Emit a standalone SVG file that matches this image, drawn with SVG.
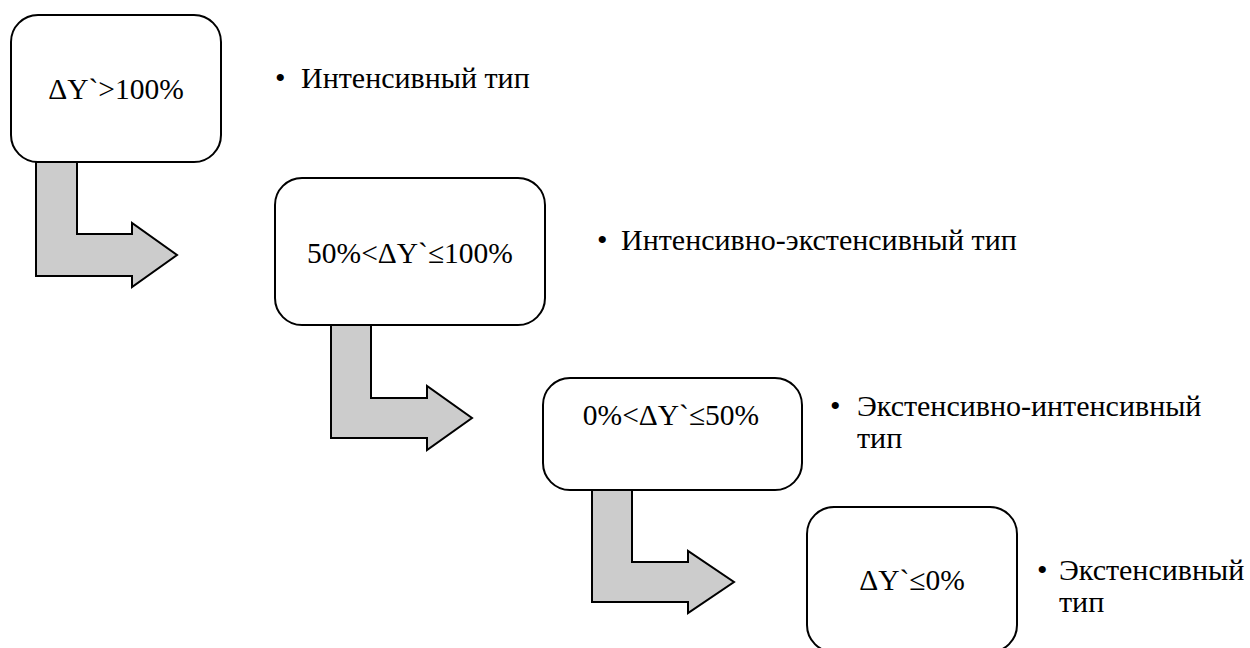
<svg xmlns="http://www.w3.org/2000/svg" width="1250" height="648" viewBox="0 0 1250 648">
  <style>
    .box { fill: #ffffff; stroke: #000000; stroke-width: 2; }
    .arrow { fill: #cccccc; stroke: #000000; stroke-width: 2; stroke-linejoin: miter; }
    .cond { font-family: "Liberation Serif", "Times New Roman", serif; font-size: 29.5px; fill: #000000; text-anchor: middle; }
    .label { font-family: "Liberation Serif", "Times New Roman", serif; font-size: 30px; fill: #000000; }
  </style>
  <rect width="1250" height="648" fill="#ffffff"/>

  <!-- bent block arrows linking the stages -->
  <g id="connectors">
    <path class="arrow" d="M36,162 L77,162 L77,234 L132,234 L132,223 L177,255 L132,287 L132,276 L36,276 Z"/>
    <path class="arrow" d="M331,325 L371,325 L371,398 L427,398 L427,386 L472,418 L427,450 L427,438 L331,438 Z"/>
    <path class="arrow" d="M592,490 L632,490 L632,562 L688,562 L688,551 L734,582 L688,613 L688,602 L592,602 Z"/>
  </g>

  <g id="node-intensive">
    <rect class="box" x="11" y="15" width="210" height="147" rx="27" ry="27"/>
    <text class="cond" x="116" y="99">ΔY`&gt;100%</text>
    <text class="label" x="275" y="88">•</text>
    <text class="label" x="301" y="88">Интенсивный тип</text>
  </g>

  <g id="node-intensive-extensive">
    <rect class="box" x="275" y="178" width="270" height="147" rx="27" ry="27"/>
    <text class="cond" x="410" y="263">50%&lt;ΔY`≤100%</text>
    <text class="label" x="597" y="250">•</text>
    <text class="label" x="621" y="250">Интенсивно-экстенсивный тип</text>
  </g>

  <g id="node-extensive-intensive">
    <rect class="box" x="543" y="378" width="259" height="112" rx="27" ry="27"/>
    <text class="cond" x="671" y="425">0%&lt;ΔY`≤50%</text>
    <text class="label" x="830" y="416">•</text>
    <text class="label" x="857" y="416">Экстенсивно-интенсивный</text>
    <text class="label" x="857" y="448">тип</text>
  </g>

  <g id="node-extensive">
    <rect class="box" x="807" y="507" width="210" height="145" rx="27" ry="27"/>
    <text class="cond" x="912" y="590">ΔY`≤0%</text>
    <text class="label" x="1037" y="580">•</text>
    <text class="label" x="1059" y="580">Экстенсивный</text>
    <text class="label" x="1059" y="612">тип</text>
  </g>
</svg>
